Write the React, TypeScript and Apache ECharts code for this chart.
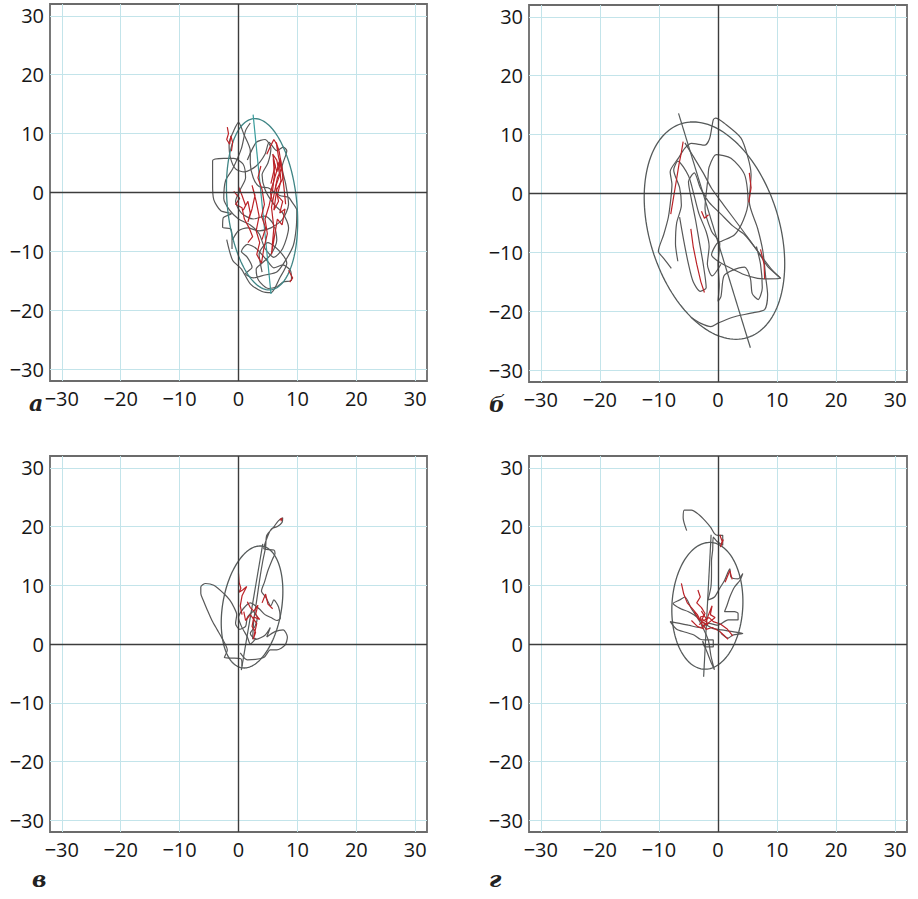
import React, { useEffect, useRef } from 'react';
import * as echarts from 'echarts';

const tickValues = [-30, -20, -10, 0, 10, 20, 30];
const panelLabels = ['а', 'б', 'в', 'г'];

// confidence ellipses: centre, semi-axes, tilt of major axis from vertical (deg, + = top to the right)
const ellipseCenters = [[4.0, -2.0], [-0.6, -6.3], [2.3, 6.3], [-1.8, 6.5]];
const ellipseSemiMajor = [14.6, 19.0, 10.5, 10.8];
const ellipseSemiMinor = [5.9, 11.0, 5.0, 6.0];
const ellipseTiltDeg = [-5.7, -17, 9.6, 3];
const axisHalfLength = [15.3, 20.8, 10.9, 12.1];

// panel а
const aGray = [
  [-1.1, -9.6], [-1.1, -7.8], [-1.3, -6.2], [-2.7, -5.9], [-2.6, -4.3], [-1.2, -3.6], [-3.0, -3.1], [-4.2, -1.2], [-4.4, 1.5], [-4.4, 5.4],
  [-2.5, 5.8], [-0.8, 5.8], [0.8, 4.8], [1.2, 2.5], [0.3, 0.5], [-0.5, -1.5], [0.5, -3.5], [2.5, -4.5], [4.5, -4.0], [6.0, -5.5],
  [6.5, -8.0], [5.5, -10.5], [4.0, -12.0], [3.0, -13.0], [3.4, -14.9], [5.1, -16.3], [6.5, -16.0], [7.6, -15.2], [9.0, -14.9], [8.8, -13.2],
  [7.5, -12.3], [6.0, -12.8], [4.8, -11.5], [3.0, -9.5], [1.5, -8.8], [0.5, -10.0], [1.5, -11.0], [2.3, -12.7], [1.2, -13.8], [2.5, -14.5],
  [4.5, -14.0], [6.5, -13.5], [8.0, -11.5], [9.3, -9.0], [9.8, -6.0], [9.9, -3.0], [9.0, -1.5], [8.5, -0.8], [7.0, -0.5], [5.0, 0.8],
  [3.5, 1.0], [2.5, 2.5], [2.0, 5.0], [2.0, 7.1], [0.9, 9.9], [0.0, 11.9], [-0.8, 10.5], [-1.6, 8.3], [-1.4, 6.0], [-0.5, 4.0],
  [1.0, 3.5], [3.0, 4.5], [4.5, 6.5], [5.2, 8.5], [6.5, 7.1], [7.6, 7.7], [8.2, 7.1], [7.4, 4.3], [8.0, 1.5], [8.5, -2.0],
  [7.5, -4.5], [5.5, -6.0], [3.5, -6.5], [1.5, -6.0], [0.0, -6.5], [-1.0, -8.0],
];
const aGray2 = [
  [1.5, 5.5], [3.0, 8.5], [4.5, 9.0], [5.5, 7.5], [5.0, 5.0], [4.0, 3.0], [4.5, 0.5], [6.0, -2.0], [7.5, -3.5], [8.5, -6.0],
  [7.5, -9.5], [6.0, -11.0], [4.5, -9.5], [3.5, -7.0], [2.0, -5.5], [0.0, -4.5], [-1.5, -3.0], [-2.5, -1.0], [-2.2, 2.0], [-1.0, 4.0],
  [0.5, 7.5], [1.2, 10.5], [2.0, 11.8],
];
const aGray3 = [
  [-2.0, -8.0], [-1.0, -11.5], [0.5, -13.0], [2.0, -15.5], [4.0, -16.8], [5.5, -17.0], [7.0, -14.5], [8.2, -12.0], [7.0, -10.0], [5.0, -8.5],
  [3.5, -10.5], [4.0, -13.5],
];
const aRed = [
  [[-1.9, 11.1], [-1.7, 10.0], [-2.0, 9.0], [-1.5, 8.2], [-1.3, 9.6], [-1.0, 8.5], [-1.2, 7.0]],
  [[0.0, 1.0], [0.6, -0.5], [1.2, -2.2], [0.8, -3.0], [1.6, -1.5], [2.0, -3.5], [1.6, -5.0], [2.3, -2.8], [2.8, -0.5], [2.3, 1.2],
   [3.0, -1.5], [3.5, -4.0], [3.0, -6.5], [3.6, -8.5], [3.1, -10.5], [3.9, -12.0], [4.3, -9.5], [4.9, -7.0], [4.5, -4.5], [5.2, -2.2],
   [5.8, 0.5], [6.1, 3.0], [5.9, 5.8], [6.5, 3.5], [6.9, 5.2], [7.2, 2.0], [6.6, -0.5], [7.5, -1.5], [7.0, -3.5], [7.9, -2.8],
   [7.4, -5.5], [6.6, -4.5], [6.1, -7.5], [5.6, -10.5], [6.0, -6.0], [5.6, -2.5], [6.2, 0.5], [6.6, 2.5], [7.3, 4.0], [6.8, 6.0],
   [6.4, 8.5], [6.9, 7.0], [7.3, 4.5], [7.7, 1.0], [8.0, -2.0]],
  [[3.8, 4.5], [3.3, 2.5], [4.0, 0.5], [4.4, -2.0], [3.9, -4.0], [4.6, -6.0], [4.0, -8.0]],
  [[5.5, 1.5], [6.2, 4.5], [5.8, 6.5], [6.5, 5.5], [7.0, 3.0], [6.3, 1.0], [6.8, -1.5], [6.0, -3.0], [6.5, 0.5], [7.6, 2.5],
   [7.1, 5.8], [6.6, 4.0], [6.0, 2.0], [5.4, 0.0], [5.9, -2.0]],
  [[-0.8, 0.2], [0.2, -1.0], [-0.5, -2.0], [0.6, -2.6], [1.0, -4.5], [1.8, -6.0], [2.4, -7.5], [1.6, -8.5]],
  [[8.5, -13.2], [9.2, -14.5], [8.7, -15.2]],
  [[4.8, 6.5], [5.5, 8.0], [6.0, 9.0], [6.5, 8.2]],
];

// panel б
const bGray = [
  [-7.9, -12.7], [-9.2, -11.0], [-10.1, -9.8], [-9.2, -7.0], [-8.4, -4.0], [-8.0, -1.0], [-7.8, 1.5], [-8.1, 3.7], [-6.7, 6.0], [-5.6, 7.7],
  [-4.5, 8.5], [-2.2, 8.2], [-1.4, 9.4], [-0.8, 12.5], [-0.4, 12.8], [1.1, 11.9], [3.9, 9.4], [5.1, 6.0], [5.6, 3.2], [5.3, -1.4],
  [6.7, -5.9], [7.6, -9.8], [8.1, -14.4], [8.4, -17.2], [7.9, -19.7], [5.6, -20.3], [2.5, -21.0], [0.0, -22.0], [-1.2, -22.6], [-3.0, -22.0],
  [-4.6, -21.0],
];
const bGray2 = [
  [-6.5, -4.0], [-5.8, -8.0], [-5.0, -12.0], [-4.2, -15.0], [-3.0, -16.6], [-2.0, -16.0], [-2.5, -12.0], [-3.2, -8.0], [-3.8, -4.5], [-4.5, -1.0],
  [-5.0, 2.0], [-4.0, 3.5], [-3.0, 1.0], [-1.5, -1.5], [0.5, -3.5], [2.5, -5.5], [4.5, -7.0], [6.5, -9.5], [8.5, -12.5], [10.6, -14.4],
  [8.5, -14.5], [6.7, -14.4], [4.5, -13.8], [2.2, -12.7], [0.0, -11.5], [-1.1, -10.4], [-0.2, -8.5], [0.6, -8.1], [2.8, -7.0], [4.3, -4.5],
  [5.1, -1.4], [4.5, 3.2], [2.2, 6.0], [-0.3, 6.6], [-1.5, 4.5], [-1.7, 2.6], [-2.2, -2.5], [-1.1, -6.4], [0.3, -8.5], [0.0, -12.0],
  [0.2, -15.5], [0.0, -18.3], [0.5, -17.5], [1.0, -14.0], [2.5, -13.0], [4.5, -12.5], [5.5, -14.5], [5.8, -17.0], [6.8, -18.0], [7.5, -16.0],
  [7.2, -12.0], [6.5, -9.0],
];
const bGray3 = [[-5.6, 8.6], [-4.0, 6.0], [-2.5, 3.5], [-1.1, 0.9], [1.0, -2.0], [3.9, -5.9], [6.5, -9.5], [9.0, -12.8], [10.6, -14.4]];
const bGray4 = [
  [-6.8, -11.5], [-7.2, -8.5], [-7.0, -5.0], [-6.2, -2.0], [-6.5, 1.0], [-7.5, 4.0], [-6.8, 5.5], [-5.0, 3.0], [-4.0, -0.5], [-3.2, -3.5],
  [-2.0, -6.5], [-1.5, -9.0], [-1.8, -12.0], [-1.0, -14.0], [0.5, -12.0],
];
const bRed = [
  [[-5.9, 8.8], [-6.2, 7.0], [-6.6, 5.0], [-7.0, 2.5], [-7.5, -0.5], [-8.0, -3.5]],
  [[-4.6, -6.0], [-4.2, -9.0], [-3.6, -12.0], [-2.9, -15.0], [-2.3, -16.8]],
  [[5.3, 3.5], [5.6, 1.0], [5.2, -1.5]],
  [[7.2, -9.5], [7.8, -12.0], [7.9, -14.5]],
  [[-2.8, -3.0], [-2.3, -4.2], [-1.6, -3.6]],
];

// panel в
const cGray = [
  [0.6, -3.8], [0.4, -2.5], [-1.3, -2.4], [-2.4, -2.3], [-1.9, -1.0], [-2.8, 1.0], [-3.6, 2.4], [-4.5, 4.0], [-5.3, 5.8], [-6.0, 7.5],
  [-6.4, 8.6], [-6.4, 9.7], [-5.6, 10.3], [-4.2, 10.0], [-2.5, 8.6], [-1.5, 7.5], [-0.8, 6.3], [-0.3, 5.0], [-0.5, 3.5], [0.2, 2.5],
  [1.2, 3.0], [1.5, 4.5], [2.5, 5.5], [3.2, 4.5], [2.8, 3.0], [2.0, 1.8], [3.0, 0.8], [4.5, 1.5], [5.4, 2.8], [4.8, 1.2],
  [6.2, 2.1], [7.6, 2.4], [8.3, 1.2], [7.9, -0.2], [6.5, -1.0], [5.4, -1.0], [4.3, -2.3], [1.5, -2.7], [0.3, -1.5],
];
const cGray2 = [
  [2.4, 0.8], [2.6, 4.1], [3.1, 7.5], [3.6, 11.0], [4.1, 14.0], [4.6, 16.5], [4.8, 18.5], [5.96, 19.9], [6.8, 21.0], [7.5, 21.5],
  [7.4, 20.7], [6.6, 20.0], [5.6, 19.6], [4.9, 18.2], [4.3, 16.2], [6.0, 16.0], [6.2, 15.4], [5.8, 14.5], [5.0, 12.5], [4.4, 10.5],
  [3.9, 9.0], [4.6, 8.0], [5.5, 6.5], [6.0, 7.5], [6.8, 6.3], [7.1, 4.4], [6.5, 4.0], [5.5, 4.5], [4.5, 5.0], [3.5, 6.0],
  [2.0, 7.0], [0.8, 6.0], [0.0, 4.5], [0.5, 3.0], [1.5, 1.2], [2.0, 0.0], [3.0, 1.0],
];
const cRed = [
  [[0.0, 12.0], [0.1, 10.5], [0.4, 9.5], [0.1, 8.8], [0.7, 9.2], [1.4, 9.8], [0.6, 8.2], [0.3, 6.5], [0.6, 5.0]],
  [[1.5, 7.2], [2.0, 6.2], [2.6, 5.6], [3.3, 6.6], [2.9, 5.0], [3.6, 4.2], [2.6, 4.6], [2.3, 3.0], [2.9, 2.0], [2.5, 0.8],
   [3.1, 3.5], [2.0, 5.0], [1.2, 4.0], [0.9, 5.5]],
  [[7.0, 21.2], [7.4, 21.4], [7.2, 20.9]],
  [[4.0, 7.0], [4.6, 8.5], [5.0, 6.8], [5.8, 6.0]],
];

// panel г
const dGray = [
  [-5.3, 19.3], [-5.9, 21.5], [-5.7, 22.8], [-4.5, 22.8], [-3.2, 22.0], [-2.2, 21.0], [-1.2, 19.8], [-0.6, 18.8], [0.0, 18.5], [0.8, 18.5],
  [0.8, 16.8], [-0.2, 17.5], [-0.8, 18.2], [-0.9, 16.0], [-1.1, 14.2], [-1.1, 12.0], [-1.2, 9.7], [-1.7, 7.5], [-0.6, 8.0], [0.3, 9.5],
  [1.1, 10.8], [2.0, 12.8], [2.2, 11.4], [3.4, 11.1], [4.2, 12.0], [3.7, 10.8], [2.8, 9.7], [2.0, 8.0], [1.5, 6.5], [1.1, 5.5],
  [2.8, 5.5], [3.4, 5.2], [3.4, 4.1], [1.7, 4.1], [0.0, 3.2], [-1.5, 3.5], [-3.0, 2.8], [-5.0, 3.2], [-6.5, 3.5], [-8.1, 3.8],
  [-7.0, 2.5], [-5.5, 2.0], [-4.0, 1.5], [-3.0, 0.8], [-2.2, 0.7], [-0.8, 0.7], [-0.8, -0.5], [-2.2, -0.5], [-2.6, 0.5], [-1.8, -1.5],
  [-1.1, -3.3], [-0.6, -4.4], [-1.2, -2.0], [-1.6, 0.5], [-2.2, 2.0], [-3.5, 4.5], [-5.0, 5.5], [-6.3, 6.0], [-7.6, 6.9], [-6.5, 7.5],
  [-5.6, 8.0], [-4.5, 6.0], [-3.2, 4.2], [-1.0, 2.7], [0.6, 2.4], [2.5, 2.1], [4.2, 1.8], [2.5, 1.5], [1.7, 1.0], [0.5, 1.8],
];
const dRed = [
  [[-6.2, 10.3], [-5.8, 8.5], [-5.2, 7.0], [-4.5, 6.2], [-3.5, 5.0], [-3.0, 4.0]],
  [[-3.4, 9.2], [-3.0, 8.0], [-3.6, 7.0], [-2.8, 6.2], [-2.2, 5.2], [-2.7, 4.2], [-2.0, 3.8], [-1.6, 5.0], [-1.0, 6.5], [-1.3, 5.0],
   [-0.5, 4.5], [-1.6, 3.6], [-2.5, 3.2], [-2.0, 2.5], [-1.0, 2.8], [0.2, 2.2], [1.0, 1.5], [1.7, 0.8]],
  [[0.3, 18.6], [0.7, 17.5], [0.4, 16.5], [0.9, 17.8]],
  [[1.2, 10.5], [2.0, 12.5], [2.4, 11.0]],
  [[-4.5, 4.0], [-3.5, 3.0], [-2.5, 2.6], [-3.0, 4.6], [-2.3, 4.8], [-2.8, 5.6], [-2.0, 4.3], [-1.8, 3.2], [-2.6, 3.8], [-3.2, 3.3]],
  [[-4.0, 5.5], [-3.3, 4.2], [-2.4, 4.0], [-1.5, 4.5], [-0.8, 3.8], [0.4, 3.4], [1.5, 2.6], [2.5, 1.4]],
];

const grayPaths = [[aGray, aGray2, aGray3], [bGray, bGray2, bGray3, bGray4], [cGray, cGray2], [dGray]];
const redPaths = [aRed, bRed, cRed, dRed];

const grids = [
  { left: 50, top: 4, width: 377, height: 377 },
  { left: 529, top: 5, width: 378, height: 377 },
  { left: 50, top: 456, width: 377, height: 376 },
  { left: 529, top: 456, width: 378, height: 376 },
];
const labelPos = [[37, 404], [497, 405], [40, 880], [497, 880]];
const ellipseColors = ['#3f8585', '#555a5a', '#555a5a', '#555a5a'];
const axisLineColors = ['#3a9c9c', '#555a5a', '#555a5a', '#555a5a'];

const fmt = (v: number) => (v < 0 ? '\u2212' + Math.abs(v) : String(v));

function ellipsePoints(i: number) {
  const [cx, cy] = ellipseCenters[i];
  const a = ellipseSemiMajor[i];
  const b = ellipseSemiMinor[i];
  const t = (ellipseTiltDeg[i] * Math.PI) / 180;
  const u = [Math.sin(t), Math.cos(t)];
  const v = [Math.cos(t), -Math.sin(t)];
  const pts: number[][] = [];
  for (let k = 0; k <= 144; k++) {
    const th = (k / 144) * Math.PI * 2;
    pts.push([cx + a * Math.cos(th) * u[0] + b * Math.sin(th) * v[0], cy + a * Math.cos(th) * u[1] + b * Math.sin(th) * v[1]]);
  }
  return pts;
}
function axisPoints(i: number) {
  const [cx, cy] = ellipseCenters[i];
  const t = (ellipseTiltDeg[i] * Math.PI) / 180;
  const h = axisHalfLength[i];
  return [[cx + h * Math.sin(t), cy + h * Math.cos(t)], [cx - h * Math.sin(t), cy - h * Math.cos(t)]];
}

export default function App() {
  const ref = useRef<HTMLDivElement>(null);
  useEffect(() => {
    if (!ref.current) return;
    const chart = echarts.init(ref.current, undefined, { renderer: 'svg' });
    const xAxis: any[] = [];
    const yAxis: any[] = [];
    const series: any[] = [];
    grids.forEach((g, i) => {
      const common = {
        type: 'value',
        gridIndex: i,
        min: -32,
        max: 32,
        axisLine: { show: false },
        axisTick: { show: false, customValues: tickValues },
        splitLine: { show: true, lineStyle: { color: '#c3e4ea', width: 1 } },
        axisLabel: {
          customValues: tickValues,
          formatter: fmt,
          fontSize: 20,
          fontWeight: 500,
          color: '#161616',
          fontFamily: '"Open Sans", "Noto Sans", sans-serif',
          margin: 7,
        },
      };
      xAxis.push({ ...common });
      yAxis.push({ ...common, axisLabel: { ...common.axisLabel, margin: 6 } });
      series.push({
        type: 'line',
        xAxisIndex: i,
        yAxisIndex: i,
        data: [],
        markLine: {
          silent: true,
          symbol: 'none',
          label: { show: false },
          lineStyle: { color: '#3c3c3c', width: 1.4, type: 'solid' },
          data: [{ xAxis: 0 }, { yAxis: 0 }],
        },
        z: 1,
      });
      grayPaths[i].forEach((p) => {
        series.push({
          type: 'line', xAxisIndex: i, yAxisIndex: i, data: p, showSymbol: false, smooth: 0.25,
          lineStyle: { color: '#585858', width: 1.2 }, z: 2,
        });
      });
      series.push({
        type: 'line', xAxisIndex: i, yAxisIndex: i, data: ellipsePoints(i), showSymbol: false,
        lineStyle: { color: ellipseColors[i], width: 1.3 }, z: 3,
      });
      series.push({
        type: 'line', xAxisIndex: i, yAxisIndex: i, data: axisPoints(i), showSymbol: false,
        lineStyle: { color: axisLineColors[i], width: 1.2 }, z: 3,
      });
      redPaths[i].forEach((p) => {
        series.push({
          type: 'line', xAxisIndex: i, yAxisIndex: i, data: p, showSymbol: false,
          lineStyle: { color: '#bb2328', width: 1.2 }, z: 4,
        });
      });
    });
    chart.setOption({
      animation: false,
      backgroundColor: '#ffffff',
      grid: grids.map((g) => ({ ...g, show: true, borderColor: '#6b6b6b', borderWidth: 1.8, backgroundColor: 'transparent' })),
      xAxis,
      yAxis,
      series,
      graphic: panelLabels.map((t, i) => ({
        type: 'text',
        left: labelPos[i][0] - 8,
        top: labelPos[i][1] - 12,
        style: { text: t, font: 'italic bold 22px "DejaVu Serif", serif', fill: '#222' },
      })),
    });
    return () => chart.dispose();
  }, []);
  return <div ref={ref} style={{ position: 'absolute', left: 0, top: 0, width: 918, height: 899 }} />;
}
